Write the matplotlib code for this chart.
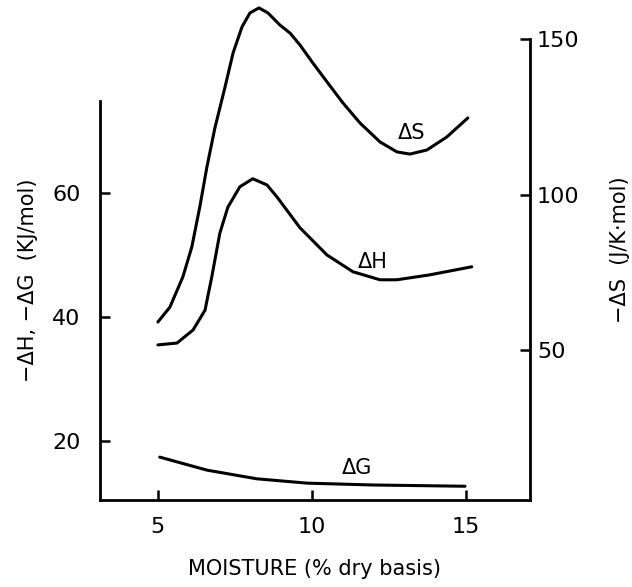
import matplotlib.pyplot as plt

# moisture (% dry basis) and read-off values
x_s = [5.0, 5.39, 5.81, 6.10, 6.36, 6.59, 6.85, 7.18, 7.44, 7.73, 7.99, 8.28, 8.57, 8.96, 9.29,
       9.61, 10.03, 10.49, 11.01, 11.56, 12.21, 12.76, 13.18, 13.73, 14.38, 15.06]
ds = [59.0, 63.8, 73.5, 83.1, 96.0, 108.8, 121.4, 134.6, 145.5, 153.9, 158.4, 160.0, 158.4, 154.5, 151.9,
      148.1, 142.3, 136.2, 129.4, 123.0, 116.9, 113.7, 113.0, 114.3, 118.5, 124.6]

x_h = [5.0, 5.62, 6.14, 6.53, 6.75, 7.01, 7.27, 7.66, 8.08, 8.54, 8.86, 9.61, 10.49, 11.33, 12.21, 12.76, 13.83, 15.19]
dh = [35.5, 35.8, 37.9, 41.1, 46.5, 53.5, 57.7, 61.0, 62.3, 61.3, 59.4, 54.4, 50.0, 47.3, 46.0, 46.0, 46.8, 48.1]

x_g = [5.06, 6.59, 8.21, 9.84, 11.98, 14.97]
dg = [17.4, 15.3, 13.9, 13.2, 12.9, 12.7]

xticks = [5, 10, 15]
left_ticks = [20, 40, 60]
right_ticks = [50, 100, 150]

plt.rcParams['font.family'] = 'DejaVu Sans'

fig = plt.figure(figsize=(6.32, 5.87), dpi=100)
ax = fig.add_axes([100 / 632, 87 / 587, 430 / 632, 461 / 587])
ax2 = ax.twinx()

lw = 2.2
ax.plot(x_h, dh, color='black', lw=lw, solid_capstyle='round', solid_joinstyle='round')
ax.plot(x_g, dg, color='black', lw=lw, solid_capstyle='round', solid_joinstyle='round')
ax2.plot(x_s, ds, color='black', lw=lw, clip_on=False, solid_capstyle='round', solid_joinstyle='round')

ax.set_xlim(3.12, 17.08)
ax.set_ylim(10.48, 84.84)
ax2.set_ylim(1.77, 150)

for sp in ['top', 'right']:
    ax.spines[sp].set_visible(False)
for sp in ['top', 'left', 'bottom']:
    ax2.spines[sp].set_visible(False)
ax.spines['left'].set_bounds(10.48, 74.8)
for sp in [ax.spines['left'], ax.spines['bottom'], ax2.spines['right']]:
    sp.set_linewidth(2)

ax.set_xticks(xticks)
ax.set_yticks(left_ticks)
ax2.set_yticks(right_ticks)
ax.tick_params(axis='x', direction='in', length=7, width=1.8, pad=12, labelsize=16)
ax.tick_params(axis='y', direction='in', length=7, width=1.8, pad=14, labelsize=16)
ax2.tick_params(axis='y', direction='in', length=7, width=1.8, pad=5, labelsize=16)

ax.set_xlabel('MOISTURE (% dry basis)', fontsize=15, labelpad=16)
ax.set_ylabel('\u2212\u0394H, \u2212\u0394G  (KJ/mol)', fontsize=15)
ax.yaxis.set_label_coords(-0.144, 0.477)
ax2.set_ylabel('\u2212\u0394S  (J/K\u00b7mol)', fontsize=15, rotation=90)
ax2.yaxis.set_label_coords(1.186, 0.542)

ax2.text(13.25, 119.8, '\u0394S', fontsize=15, ha='center', va='center')
ax.text(11.98, 48.9, '\u0394H', fontsize=15, ha='center', va='center')
ax.text(11.46, 15.6, '\u0394G', fontsize=15, ha='center', va='center')

fig.savefig('out.png', dpi=100)
